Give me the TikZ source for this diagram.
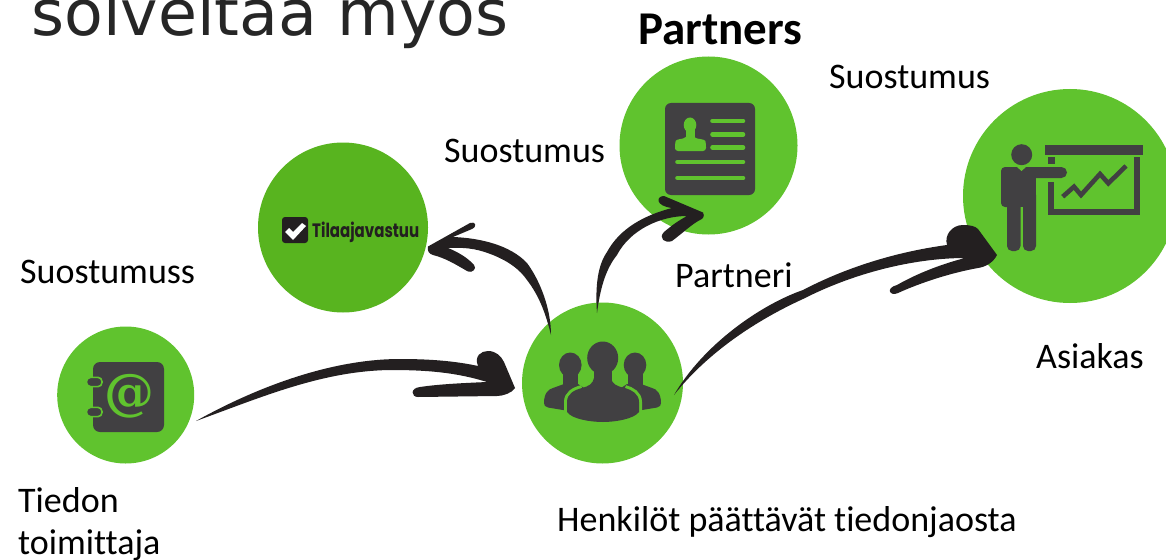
\documentclass[tikz,border=0pt]{standalone}
\usepackage{fontspec}
\setmainfont{Carlito}[Ligatures={NoCommon}]
\newfontfamily\titlefont{DejaVu Sans}
\newfontfamily\logofont{Poppins}
\newfontfamily\atfont{DejaVu Serif}
\usetikzlibrary{calc}
\definecolor{grn}{HTML}{60C32E}
\definecolor{grnb}{HTML}{58B41F}
\definecolor{icon}{HTML}{414042}
\definecolor{ink}{HTML}{231F20}
\definecolor{ttl}{HTML}{262626}
\tikzset{
  disc/.style={circle,fill=grn,inner sep=0pt,minimum size=#1},
  lab/.style={anchor=base west,inner sep=0pt,font=\fontsize{36}{36}\selectfont,text=black},
  sweep/.style={fill=ink,draw=none},
  bar/.style={draw=grn,line width=4.6pt,line cap=round}
}
\begin{document}
\begin{tikzpicture}[x=1pt,y=-1pt]
\clip (0,0) rectangle (1166,559);
\fill[white] (0,0) rectangle (1166,559);
% circles
\node[disc=170pt,fill=grnb] (tila) at (343,227.5) {};
\node[disc=178pt] (partner) at (708.5,145.5) {};
\node[disc=214pt] (asiakas) at (1070,196) {};
\node[disc=161pt] (people) at (602.5,383) {};
\node[disc=137pt] (tiedon) at (125.7,395) {};
% tila logo
\fill[ink,rounded corners=3pt] (282,217) rectangle (308,243);
\fill[white] (285,232) -- (289,228) -- (293,232) -- (302,223) -- (306,226) -- (293,240) -- cycle;
\node[anchor=base west,inner sep=0pt,text=ink] (tilatxt) at (312,237) {\scalebox{.79}[1.02]{\logofont\bfseries\fontsize{19}{19}\selectfont Tilaajavastuu}};
% partner icon
\fill[icon,rounded corners=6pt] (665,103) rectangle (755,195);
\foreach \yy in {121,134.5,147.5} \draw[bar] (712.5,\yy) -- (743,\yy);
\foreach \yy in {162,178} \draw[bar] (677.5,\yy) -- (743,\yy);
\fill[grn] (690,125) ellipse (6.3pt and 7.5pt);
\fill[grn] (685.5,128) rectangle (694.5,138);
\fill[grn,rounded corners=3pt] (675,151) -- (675,144) .. controls (676,139) and (683,139) .. (686,136) -- (694,136) .. controls (697,139) and (705,139) .. (706,144) -- (706,151) .. controls (695,151) and (685,151) .. cycle;
% asiakas icon
\fill[icon] (1021.7,154.7) circle (10.5pt);
\fill[icon,rounded corners=4pt] (1001,167) rectangle (1018,207);
\fill[icon] (1008,167) rectangle (1036,190);
\fill[icon,rounded corners=5.5pt] (1015,167) rectangle (1067,178);
\fill[icon,rounded corners=5pt] (1007,190) -- (1020.5,190) -- (1020.5,251) -- (1007,251) -- cycle;
\fill[icon,rounded corners=5pt] (1023,190) -- (1036,190) -- (1036,251) -- (1023,251) -- cycle;
\fill[icon] (1007,190) rectangle (1036,207);
\fill[grn] (1017,167) -- (1021.5,171) -- (1026,167) -- cycle;
\fill[icon] (1045,145) rectangle (1143,155);
\fill[icon] (1048,157) rectangle (1055,164);
\fill[icon] (1134,157) rectangle (1140,215);
\fill[icon] (1048,209) rectangle (1140,215);
\fill[icon] (1048,182) rectangle (1054,215);
\draw[icon,line width=4.6pt] (1062.7,196.7) -- (1074,186.7) -- (1081,195) -- (1100,174) -- (1108.3,183.3) -- (1126,166);
% people icon
\foreach \hx in {570.3,635} {
  \fill[icon] (\hx,365) ellipse (11.3pt and 12.5pt);
  \fill[icon] (\hx-7.5,370) rectangle (\hx+7.5,390);
}
\fill[icon] (544,403) .. controls (544,394) and (548,389) .. (553,388) -- (564,384) -- (578,384) -- (584,388) -- (584,412) -- (563,410) -- (548,407.5) .. controls (545,407) and (544,405) .. (544,403) -- cycle;
\fill[icon] (661,403) .. controls (661,394) and (657,389) .. (652,388) -- (641,384) -- (627,384) -- (621,388) -- (621,412) -- (642,410) -- (657,407.5) .. controls (660,407) and (661,405) .. (661,403) -- cycle;
\draw[grn,line width=6pt] (567,411) -- (567,402) .. controls (567,394) and (574,390) .. (582,388);
\draw[grn,line width=6pt] (639,411) -- (639,402) .. controls (639,394) and (632,390) .. (625,388);
\fill[icon] (567,412) -- (567,402) .. controls (567,394) and (574,390) .. (582,388) .. controls (588,386.5) and (593,384) .. (594,378) -- (611,378) .. controls (612,384) and (617,386.5) .. (625,388) .. controls (632,390) and (639,394) .. (639,402) -- (639,412) .. controls (634,419) and (615,422) .. (603,422) .. controls (590,422) and (572,419) .. cycle;
\fill[icon] (602.7,358) ellipse (15.5pt and 16.5pt);
\fill[icon] (593.5,365) rectangle (611.5,388);
% tiedon icon
\fill[icon,rounded corners=7pt] (93,362) rectangle (164,432);
\foreach \yy in {382,412} {
  \draw[grn,line width=1.6pt,fill=icon,rounded corners=4pt] (86.5,\yy-4.6) rectangle (102,\yy+4.6);
}
\node[inner sep=0pt,text=grn,font=\atfont\bfseries\fontsize{50}{50}\selectfont] (at) at (129.5,396) {@};
% named ends of connectors
\coordinate (a1s) at ($(tiedon)+(70.3,26)$);
\coordinate (a1e) at ($(people)+(-87.5,5)$);
\coordinate (a2s) at ($(people)+(71.5,12)$);
\coordinate (a2e) at ($(asiakas)+(-73,59)$);
\coordinate (a3s) at ($(people)+(-5.5,-70)$);
\coordinate (a3e) at ($(partner)+(-5.5,67)$);
\coordinate (a4s) at ($(people)+(-51.5,-48)$);
\coordinate (a4e) at ($(tila)+(85,19)$);
% sweeping arrows
\fill[sweep] (a1s) .. controls (255,388) and (330,359) .. (400,359) .. controls (430,359) and (455,361) .. (478,366) .. controls (474,356) and (481,351) .. (488,351) .. controls (496,351) and (501,356) .. (504,362) -- (a1e) .. controls (512,393) and (503,396) .. (497,396) -- (418,397) .. controls (411,397) and (410,388) .. (420,387) .. controls (440,384) and (465,383) .. (487,382) .. controls (455,372) and (425,370) .. (390,370) .. controls (322,371) and (262,397) .. cycle;
\fill[sweep] (a2s) .. controls (703,345) and (760,305) .. (803,290) .. controls (845,268) and (895,252) .. (947,245) .. controls (944,235) and (952,225) .. (963,225) .. controls (970,225) and (975,226) .. (978,229) -- (a2e) .. controls (993,263) and (985,267) .. (978,268) .. controls (950,273) and (920,283) .. (898,293) .. controls (890,297) and (885,288) .. (897,285) .. controls (918,273) and (942,264) .. (965,258) .. controls (920,258) and (860,270) .. (803,299) .. controls (757,320) and (708,352) .. cycle;
\fill[sweep] (a3s) .. controls (595,285) and (598,265) .. (607,252) .. controls (620,228) and (645,215) .. (672,208) .. controls (655,206) and (656,196) .. (664,196) -- (a3e) .. controls (705,216) and (703,219) .. (700,220) .. controls (692,224) and (684,232) .. (672,241) .. controls (665,244) and (658,238) .. (664,232) .. controls (670,227) and (676,222) .. (687,216) .. controls (660,216) and (630,230) .. (617,255) .. controls (605,270) and (600,290) .. cycle;
\fill[sweep] (a4s) .. controls (551,310) and (541,282) .. (527,263) .. controls (510,245) and (480,238) .. (453,237) -- (472,229) .. controls (478,226) and (475,221) .. (470,223) -- (a4e) .. controls (427,251) and (429,254) .. (433,255) .. controls (445,258) and (455,264) .. (467,271) .. controls (473,274) and (477,268) .. (474,265) .. controls (468,258) and (458,252) .. (448,248) .. controls (470,247) and (480,250) .. (493,255) .. controls (510,262) and (520,270) .. (527,280) .. controls (540,297) and (546,315) .. cycle;
% labels
\node[anchor=base west,inner sep=0pt,text=ttl,font=\titlefont\fontsize{63.4}{63.4}\selectfont] (title) at (31,36) {solveltaa myös};
\node[lab,font=\bfseries\fontsize{47}{47}\selectfont] (ptitle) at (638,44.5) {Partners};
\node[lab] (s1) at (829,88.5) {Suostumus};
\node[lab] (s2) at (444,162) {Suostumus};
\node[lab] (s3) at (20,283.5) {Suostumuss};
\node[lab] (l1) at (675,287) {Partneri};
\node[lab] (l2) at (1036,368.5) {Asiakas};
\node[lab] (l3) at (18,512.5) {Tiedon};
\node[lab] (l4) at (18,554) {toimittaja};
\node[lab] (l5) at (557,531) {Henkilöt päättävät tiedonjaosta};
\end{tikzpicture}
\end{document}
